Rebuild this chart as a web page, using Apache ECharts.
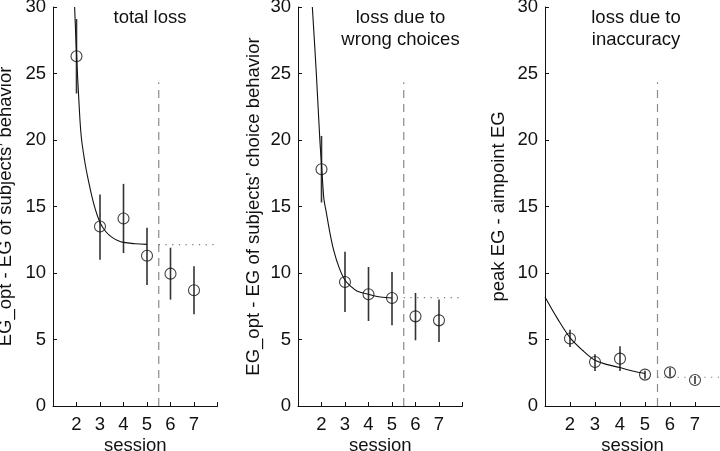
<!DOCTYPE html>
<html>
<head>
<meta charset="utf-8">
<script src="https://cdn.jsdelivr.net/npm/echarts@6/dist/echarts.min.js"></script>
<style>html,body{margin:0;padding:0;background:#fff;}#c{width:720px;height:451px;}</style>
</head>
<body>
<div id="c"></div>
<script>
// ---- data ----
const sessions = [2, 3, 4, 5, 6, 7];

const p1Mean = [26.3, 13.5, 14.1, 11.3, 9.95, 8.7];
const p1Lo   = [23.5, 11.0, 11.5, 9.1, 8.0, 6.9];
const p1Hi   = [29.1, 15.9, 16.7, 13.4, 11.9, 10.5];
const p1CurveX = [1.92, 2.0, 2.1, 2.2, 2.35, 2.5, 2.75, 3.0, 3.25, 3.5, 3.75, 4.0, 4.5, 5.0];
const p1CurveY = [30, 26.5, 23.0, 20.3, 18.4, 17.0, 15.1, 13.8, 13.1, 12.7, 12.45, 12.3, 12.2, 12.15];
const p1Asym = 12.13;

const p2Mean = [17.8, 9.32, 8.4, 8.12, 6.74, 6.44];
const p2Lo   = [15.3, 7.07, 6.39, 6.07, 4.94, 4.81];
const p2Hi   = [20.3, 11.6, 10.45, 10.08, 8.5, 8.0];
const p2CurveX = [1.61, 1.78, 1.93, 2.0, 2.1, 2.2, 2.35, 2.52, 2.75, 3.0, 3.25, 3.5, 4.0, 4.5, 5.0];
const p2CurveY = [30, 25, 20, 18.2, 15.6, 14.6, 13.1, 11.7, 10.4, 9.45, 9.0, 8.65, 8.4, 8.2, 8.12];
const p2Asym = 8.15;

const p3Mean = [5.07, 3.31, 3.56, 2.36, 2.53, 1.96];
const p3Lo   = [4.44, 2.63, 2.63, 2.05, 2.2, 1.65];
const p3Hi   = [5.74, 3.89, 4.49, 2.65, 2.85, 2.25];
const p3CurveX = [1.0, 1.5, 2.0, 2.5, 3.0, 3.5, 4.0, 4.5, 5.0];
const p3CurveY = [8.2, 6.57, 5.14, 4.19, 3.44, 3.11, 2.89, 2.63, 2.44];
const p3Asym = 2.16;

const splitSession = 5.5;
const splitTop = 24.35;
const xMin = 1, xMax = 8;

const yNames = ["EG_opt - EG of subjects’ behavior", "EG_opt - EG of subjects’ choice behavior", "peak EG - aimpoint EG"];
const titles = [["total loss"], ["loss due to", "wrong choices"], ["loss due to", "inaccuracy"]];
const xName = "session";

// ---- chart ----
const FONT = "'Liberation Sans', Arial, Helvetica, sans-serif";
const grids = [
  {left: 53, top: 7, width: 164.5, height: 399, outerBoundsMode: 'none', containLabel: false},
  {left: 298, top: 7, width: 164.5, height: 399, outerBoundsMode: 'none', containLabel: false},
  {left: 545, top: 7, width: 175, height: 399, outerBoundsMode: 'none', containLabel: false}
];
const panels = [
  {mean: p1Mean, lo: p1Lo, hi: p1Hi, cx: p1CurveX, cy: p1CurveY, asym: p1Asym, nameGap: 38},
  {mean: p2Mean, lo: p2Lo, hi: p2Hi, cx: p2CurveX, cy: p2CurveY, asym: p2Asym, nameGap: 35},
  {mean: p3Mean, lo: p3Lo, hi: p3Hi, cx: p3CurveX, cy: p3CurveY, asym: p3Asym, nameGap: 37}
];
const titleCenters = [150, 400.5, 636];

const xAxes = [], yAxes = [], series = [], graphics = [];
panels.forEach((p, i) => {
  xAxes.push({
    type: 'value', gridIndex: i, min: xMin, max: xMax, interval: 1,
    name: xName, nameLocation: 'middle', nameGap: 30, nameMoveOverlap: false,
    nameTextStyle: {fontFamily: FONT, fontSize: 18.5, color: '#111'},
    axisLine: {lineStyle: {color: '#111', width: 1}},
    axisTick: {inside: true, length: 4, lineStyle: {color: '#111'}},
    axisLabel: {fontFamily: FONT, fontSize: 18.5, color: '#111', margin: 9,
      formatter: v => (v === xMin || v === xMax) ? '' : String(v)},
    splitLine: {show: false}
  });
  yAxes.push({
    type: 'value', gridIndex: i, min: 0, max: 30, interval: 5,
    name: yNames[i], nameLocation: 'middle', nameGap: p.nameGap, nameMoveOverlap: false,
    nameTextStyle: {fontFamily: FONT, fontSize: 18.5, color: '#111'},
    axisLine: {show: true, lineStyle: {color: '#111', width: 1}},
    axisTick: {show: true, inside: true, length: 4, lineStyle: {color: '#111'}},
    axisLabel: {fontFamily: FONT, fontSize: 18.5, color: '#111', margin: 7},
    splitLine: {show: false}
  });
  series.push({
    type: 'line', xAxisIndex: i, yAxisIndex: i, smooth: 0.35, symbol: 'none',
    data: p.cx.map((x, k) => [x, p.cy[k]]),
    lineStyle: {color: '#111', width: 1.1}, z: 3
  });
  series.push({
    type: 'line', xAxisIndex: i, yAxisIndex: i, symbol: 'none',
    data: [[splitSession, 0], [splitSession, splitTop]],
    lineStyle: {color: '#8a8a8a', width: 1.2, type: [8, 6]}, z: 1
  });
  series.push({
    type: 'line', xAxisIndex: i, yAxisIndex: i, symbol: 'none',
    data: [[splitSession, p.asym], [xMax, p.asym]],
    lineStyle: {color: '#777', width: 1.2, type: [1.2, 5.5]}, z: 1
  });
  series.push({
    type: 'custom', xAxisIndex: i, yAxisIndex: i,
    data: sessions.map((s, k) => [s, p.lo[k], p.hi[k]]),
    encode: {x: 0, y: [1, 2]},
    renderItem: (params, api) => {
      const a = api.coord([api.value(0), api.value(1)]);
      const b = api.coord([api.value(0), api.value(2)]);
      return {type: 'line', shape: {x1: a[0], y1: a[1], x2: b[0], y2: b[1]},
        style: {stroke: '#333', lineWidth: 1.6}};
    }, z: 2
  });
  series.push({
    type: 'scatter', xAxisIndex: i, yAxisIndex: i, symbol: 'circle', symbolSize: 11,
    data: sessions.map((s, k) => [s, p.mean[k]]),
    itemStyle: {color: 'rgba(0,0,0,0)', borderColor: '#111', borderWidth: 1.1}, z: 4
  });
  titles[i].forEach((t, j) => {
    graphics.push({type: 'text', x: titleCenters[i], y: 18 + j * 22,
      style: {text: t, font: '18.5px ' + FONT, fill: '#111', align: 'center', verticalAlign: 'middle'}});
  });
});

const chart = echarts.init(document.getElementById('c'), null, {renderer: 'canvas'});
chart.setOption({
  animation: false,
  backgroundColor: '#fff',
  grid: grids,
  xAxis: xAxes,
  yAxis: yAxes,
  series: series,
  graphic: graphics
});
</script>
</body>
</html>
